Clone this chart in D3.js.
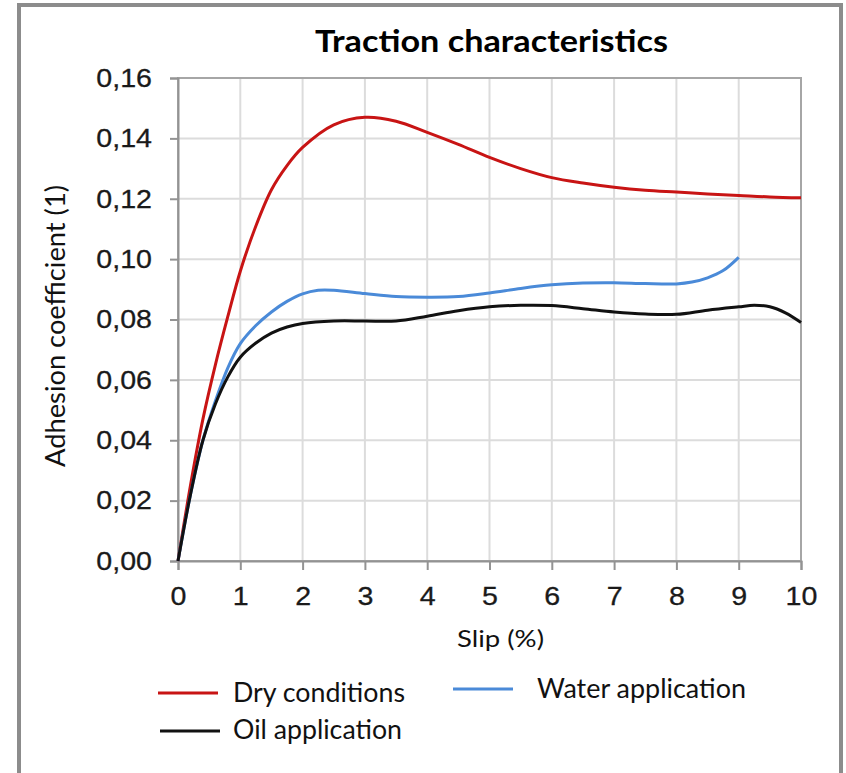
<!DOCTYPE html>
<html>
<head>
<meta charset="utf-8">
<script src="https://cdn.jsdelivr.net/npm/d3@7"></script>
<style>
    html, body { margin: 0; padding: 0; background: #fff; }
    svg { display: block; }
</style>
</head>
<body>
<svg id="chart" width="846" height="773"></svg>
<script>
// slip values (%) and adhesion coefficients
const drySlip = [0, 0.2, 0.4, 0.6, 0.8, 1, 1.25, 1.5, 1.75, 2, 2.5, 3, 3.5, 4, 4.5, 5, 5.5, 6, 6.5, 7, 7.5, 8, 8.5, 9, 9.5, 10];
const dryAdhesion = [0, 0.025, 0.047, 0.065, 0.081, 0.096, 0.111, 0.123, 0.131, 0.137, 0.1445, 0.147, 0.1457, 0.142, 0.138, 0.1337, 0.130, 0.127, 0.1252, 0.1238, 0.1228, 0.1222, 0.1216, 0.1211, 0.1206, 0.1203];

const waterSlip = [0, 0.2, 0.4, 0.6, 0.8, 1, 1.25, 1.5, 1.75, 2, 2.25, 2.5, 3, 3.5, 4, 4.5, 5, 5.5, 6, 6.5, 7, 7.5, 8, 8.25, 8.5, 8.75, 9];
const waterAdhesion = [0, 0.022, 0.040, 0.053, 0.064, 0.072, 0.078, 0.0825, 0.086, 0.0885, 0.0897, 0.0897, 0.0886, 0.0876, 0.0874, 0.0876, 0.0888, 0.0903, 0.0915, 0.0921, 0.0922, 0.0919, 0.0918, 0.0924, 0.0938, 0.0962, 0.1006];

const oilSlip = [0, 0.2, 0.4, 0.6, 0.8, 1, 1.25, 1.5, 1.75, 2, 2.5, 3, 3.5, 4, 4.5, 5, 5.5, 6, 6.5, 7, 7.5, 8, 8.5, 9, 9.25, 9.5, 9.75, 10];
const oilAdhesion = [0, 0.022, 0.040, 0.052, 0.061, 0.0675, 0.0722, 0.0755, 0.0775, 0.0787, 0.0795, 0.0795, 0.0795, 0.0811, 0.0829, 0.0842, 0.0847, 0.0846, 0.0836, 0.0825, 0.0818, 0.0817, 0.0831, 0.0842, 0.0847, 0.0842, 0.0822, 0.079];

const xTicks = [0, 1, 2, 3, 4, 5, 6, 7, 8, 9, 10];
const yTicks = [0, 0.02, 0.04, 0.06, 0.08, 0.10, 0.12, 0.14, 0.16];

const series = [
    { name: "Dry conditions", color: "#c81414", xs: drySlip, ys: dryAdhesion },
    { name: "Water application", color: "#4a8ad8", xs: waterSlip, ys: waterAdhesion },
    { name: "Oil application", color: "#111111", xs: oilSlip, ys: oilAdhesion }
];

const svg = d3.select("#chart");
const plotLeft = 178, plotRight = 801, plotTop = 78, plotBottom = 561;

const x = d3.scaleLinear().domain([0, 10]).range([plotLeft, plotRight]);
const y = d3.scaleLinear().domain([0, 0.16]).range([plotBottom, plotTop]);

const commaFormat = d3.formatLocale({ decimal: ",", thousands: ".", grouping: [3], currency: ["", ""] }).format(".2f");

// outer frame (open at the bottom)
svg.append("rect")
    .attr("x", 19).attr("y", 5)
    .attr("width", 822).attr("height", 820)
    .attr("fill", "none")
    .attr("stroke", "#8c8c8c")
    .attr("stroke-width", 4);

// title
svg.append("text")
    .attr("x", 315).attr("y", 52)
    .attr("textLength", 353).attr("lengthAdjust", "spacingAndGlyphs")
    .style("font-family", "Lato, 'Open Sans', sans-serif")
    .style("font-weight", "bold")
    .style("font-size", "30px")
    .style("fill", "#000")
    .text("Traction characteristics");

// grid
svg.append("g")
    .selectAll("line")
    .data(xTicks.slice(1, -1))
    .join("line")
    .attr("x1", d => x(d)).attr("x2", d => x(d))
    .attr("y1", plotTop).attr("y2", plotBottom)
    .attr("stroke", "#dcdcdc").attr("stroke-width", 2);

svg.append("g")
    .selectAll("line")
    .data(yTicks.slice(1, -1))
    .join("line")
    .attr("x1", plotLeft).attr("x2", plotRight)
    .attr("y1", d => y(d)).attr("y2", d => y(d))
    .attr("stroke", "#dcdcdc").attr("stroke-width", 2);

// plot frame
svg.append("rect")
    .attr("x", plotLeft).attr("y", plotTop)
    .attr("width", plotRight - plotLeft).attr("height", plotBottom - plotTop)
    .attr("fill", "none")
    .attr("stroke", "#a6a6a6")
    .attr("stroke-width", 2);

// axes
const xAxis = svg.append("g")
    .attr("transform", `translate(0,${plotBottom})`)
    .call(d3.axisBottom(x).tickValues(xTicks).tickFormat(d3.format("d")).tickSize(9).tickPadding(17));

const yAxis = svg.append("g")
    .attr("transform", `translate(${plotLeft},0)`)
    .call(d3.axisLeft(y).tickValues(yTicks).tickFormat(commaFormat).tickSize(8).tickPadding(19));

[xAxis, yAxis].forEach(ax => {
    ax.select(".domain").attr("stroke", "#939393").attr("stroke-width", 2);
    ax.selectAll(".tick line").attr("stroke", "#939393").attr("stroke-width", 2);
    ax.selectAll(".tick text")
        .style("font-family", "'Liberation Sans', Arial, sans-serif")
        .style("font-size", "26px")
        .style("fill", "#1a1a1a")
        .style("stroke", "#1a1a1a")
        .style("stroke-width", 0.3)
        .attr("transform", "scale(1.1,1)");
});
yAxis.selectAll(".tick text").attr("x", -26 / 1.1);

// axis titles
svg.append("text")
    .attr("transform", "translate(65,467) rotate(-90)")
    .attr("textLength", 282).attr("lengthAdjust", "spacingAndGlyphs")
    .style("font-family", "Lato, 'Open Sans', sans-serif")
    .style("font-size", "27px")
    .style("fill", "#111")
    .text("Adhesion coefficient (1)");

svg.append("text")
    .attr("x", 457).attr("y", 647)
    .attr("textLength", 87).attr("lengthAdjust", "spacingAndGlyphs")
    .style("font-family", "Lato, 'Open Sans', sans-serif")
    .style("font-size", "23px")
    .style("fill", "#111")
    .text("Slip (%)");

// curves
const line = d3.line()
    .x(d => x(d[0]))
    .y(d => y(d[1]))
    .curve(d3.curveCatmullRom.alpha(0.5));

svg.append("g")
    .selectAll("path")
    .data(series)
    .join("path")
    .attr("d", s => line(d3.zip(s.xs, s.ys)))
    .attr("fill", "none")
    .attr("stroke", s => s.color)
    .attr("stroke-width", 3)
    .attr("stroke-linejoin", "round");

// legend
const legendPos = [
    { lx: 158, ly: 693, tx: 233, ty: 702, len: 172 },
    { lx: 453, ly: 689, tx: 537, ty: 698, len: 209 },
    { lx: 160, ly: 731, tx: 233, ty: 739, len: 169 }
];

const legend = svg.append("g")
    .selectAll("g")
    .data(series)
    .join("g");

legend.append("line")
    .attr("x1", (s, i) => legendPos[i].lx)
    .attr("x2", (s, i) => legendPos[i].lx + 60)
    .attr("y1", (s, i) => legendPos[i].ly)
    .attr("y2", (s, i) => legendPos[i].ly)
    .attr("stroke", s => s.color)
    .attr("stroke-width", 3);

legend.append("text")
    .attr("x", (s, i) => legendPos[i].tx)
    .attr("y", (s, i) => legendPos[i].ty)
    .attr("textLength", (s, i) => legendPos[i].len)
    .attr("lengthAdjust", "spacingAndGlyphs")
    .style("font-family", "Lato, 'Open Sans', sans-serif")
    .style("font-size", "27px")
    .style("fill", "#111")
    .text(s => s.name);
</script>
</body>
</html>
